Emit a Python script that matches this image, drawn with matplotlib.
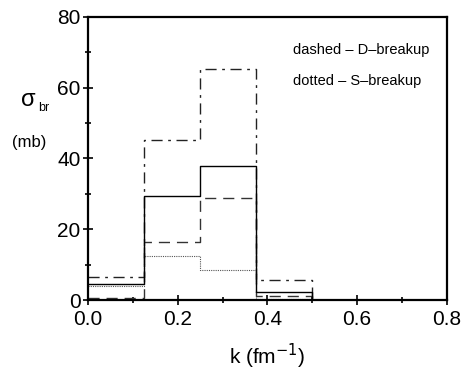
import numpy as np
import matplotlib.pyplot as plt
from matplotlib.ticker import MultipleLocator

plt.rcParams['font.family'] = ['Liberation Sans', 'DejaVu Sans']

# bin edges in k (fm^-1) and cross sections (mb)
edges = [0.0, 0.125, 0.25, 0.375, 0.5]
total = [4.4, 29.5, 38.0, 2.2]
dashdot = [6.5, 45.3, 65.3, 5.6]
d_breakup = [0.5, 16.3, 28.8, 1.2]
s_breakup = [4.0, 12.5, 8.4, 0.4]

fig = plt.figure(figsize=(4.64, 3.75), dpi=100)
ax = fig.add_axes([0.19, 0.2, 0.773, 0.755])

def draw(vals, **kw):
    ax.plot(edges, list(vals) + [0.0], drawstyle='steps-post', **kw)

draw(s_breakup, color='#555555', lw=0.8, ls=(0, (1, 1)))
draw(d_breakup, color='#333333', lw=1.0, ls=(0, (8, 5)))
draw(dashdot, color='#222222', lw=1.0, ls=(0, (8, 4, 2, 4)))
draw(total, color='black', lw=1.0)

ax.set_xlim(0, 0.8)
ax.set_ylim(0, 80)
ax.xaxis.set_major_locator(MultipleLocator(0.2))
ax.xaxis.set_minor_locator(MultipleLocator(0.1))
ax.yaxis.set_major_locator(MultipleLocator(20))
ax.yaxis.set_minor_locator(MultipleLocator(10))
ax.tick_params(which='both', direction='inout', labelsize=15, width=1.2)
ax.tick_params(axis='x', pad=4)
ax.tick_params(axis='y', pad=2)
ax.tick_params(which='major', length=7)
ax.tick_params(which='minor', length=4)
for s in ax.spines.values():
    s.set_linewidth(1.6)

ax.set_xlabel('k (fm$^{-1}$)', fontsize=15, labelpad=9)
fig.text(0.062, 0.733, '\u03c3', fontsize=17, ha='center', va='center')
fig.text(0.094, 0.712, 'br', fontsize=9, ha='center', va='center')
fig.text(0.063, 0.62, '(mb)', fontsize=12, ha='center', va='center')
ax.text(0.458, 70.5, 'dashed \u2013 D\u2013breakup', fontsize=10.5, va='center')
ax.text(0.458, 61.8, 'dotted \u2013 S\u2013breakup', fontsize=10.5, va='center')

fig.savefig('out.png', dpi=100)
